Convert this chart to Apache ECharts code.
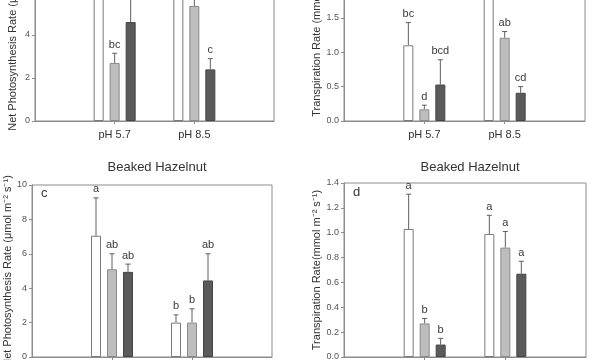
<!DOCTYPE html>
<html>
<head>
<meta charset="utf-8">
<script src="https://cdn.jsdelivr.net/npm/echarts@6/dist/echarts.min.js"></script>
<style>html,body{margin:0;padding:0;background:#fff}#c{width:600px;height:360px}</style>
</head>
<body>
<div id="c"></div>
<script>
const categories = ['', 'pH 5.7', 'pH 8.5', ''];
const panelTitle = 'Beaked Hazelnut';
const photoName = 'Net Photosynthesis Rate (\u03bcmol m\u207b\u00b2 s\u207b\u00b9)';
const transNameB = 'Transpiration Rate (mmol m\u207b\u00b2 s\u207b\u00b9)';
const transNameD = 'Transpiration Rate(mmol m\u207b\u00b2 s\u207b\u00b9)';

// Panel a (top-left, partially visible)
const aWhite = [6.8, 6.4];   const aWhiteErr = [7.6, 7.0];  const aWhiteLet = ['', ''];
const aGray = [2.7, 5.35];   const aGrayErr = [3.15, 5.9];  const aGrayLet = ['bc', ''];
const aDark = [4.6, 2.4];    const aDarkErr = [5.9, 2.9];   const aDarkLet = ['', 'c'];
// Panel b (top-right, partially visible)
const bWhite = [1.1, 2.0];   const bWhiteErr = [1.43, 2.2]; const bWhiteLet = ['bc', ''];
const bGray = [0.17, 1.21];  const bGrayErr = [0.23, 1.3];  const bGrayLet = ['d', 'ab'];
const bDark = [0.53, 0.41];  const bDarkErr = [0.89, 0.5];  const bDarkLet = ['bcd', 'cd'];
// Panel c
const cWhite = [7.05, 2.0];  const cWhiteErr = [9.25, 2.45]; const cWhiteLet = ['a', 'b'];
const cGray = [5.1, 2.0];    const cGrayErr = [6.0, 2.8];    const cGrayLet = ['ab', 'b'];
const cDark = [4.95, 4.45];  const cDarkErr = [5.4, 6.0];    const cDarkLet = ['ab', 'ab'];
// Panel d
const dWhite = [1.03, 0.99]; const dWhiteErr = [1.31, 1.14]; const dWhiteLet = ['a', 'a'];
const dGray = [0.27, 0.88];  const dGrayErr = [0.31, 1.01];  const dGrayLet = ['b', 'a'];
const dDark = [0.10, 0.67];  const dDarkErr = [0.15, 0.77];  const dDarkLet = ['b', 'a'];

const fills = ['#ffffff', '#bdbdbd', '#5a5a5a'];
const borders = ['#7a7a7a', '#8a8a8a', '#454545'];
const offsets = [-16, 0, 16];
const FONT = 'Arial, "Liberation Sans", sans-serif';

const chart = echarts.init(document.getElementById('c'));

function barSeries(gi, vals, k) {
  return {
    type: 'bar', xAxisIndex: gi, yAxisIndex: gi, barWidth: 10, barGap: '60%',
    data: ['-', vals[0], vals[1], '-'],
    itemStyle: { color: fills[k], borderColor: borders[k], borderWidth: 1 },
    silent: true, animation: false
  };
}
function errSeries(gi, vals, tops, lets, k) {
  const data = [[1, vals[0], tops[0], lets[0]], [2, vals[1], tops[1], lets[1]]];
  return {
    type: 'custom', xAxisIndex: gi, yAxisIndex: gi, animation: false, silent: true, clip: false,
    data: data,
    renderItem: function (params, api) {
      const x = api.value(0);
      const base = api.coord([x, api.value(1)]);
      const top = api.coord([x, api.value(2)]);
      const cx = base[0] + offsets[k];
      const st = { stroke: '#5e5e5e', lineWidth: 1 };
      return {
        type: 'group',
        children: [
          { type: 'line', shape: { x1: cx, y1: base[1], x2: cx, y2: top[1] }, style: st },
          { type: 'line', shape: { x1: cx - 2.5, y1: top[1], x2: cx + 2.5, y2: top[1] }, style: st },
          { type: 'text', style: { x: cx, y: top[1] - 3, text: data[params.dataIndex][3], fill: '#3a3a3a',
            font: '11px ' + FONT, align: 'center', verticalAlign: 'bottom' } }
        ]
      };
    }
  };
}

const grids = [
  { left: 35, top: -51, width: 239, height: 172 },
  { left: 344, top: -51, width: 241, height: 172 },
  { left: 32, top: 185, width: 240, height: 172 },
  { left: 344, top: 183, width: 242, height: 174 }
].map(g => Object.assign({ show: true, borderColor: '#8c8c8c', borderWidth: 1, backgroundColor: 'transparent',
  containLabel: false, outerBoundsMode: 'none' }, g));

function xAx(gi) {
  return {
    type: 'category', gridIndex: gi, data: categories, boundaryGap: false,
    axisLine: { lineStyle: { color: '#8c8c8c' } },
    axisTick: { length: 3, interval: function (i, v) { return v !== ''; }, lineStyle: { color: '#8c8c8c' } },
    axisLabel: { color: '#333', fontSize: 11, margin: 8, interval: 0, fontFamily: FONT },
    splitLine: { show: false }
  };
}
function yAx(gi, max, interval, name, gap, dec) {
  return {
    type: 'value', gridIndex: gi, min: 0, max: max, interval: interval,
    name: name, nameLocation: 'middle', nameGap: gap, nameRotate: 90,
    nameTextStyle: { color: '#333', fontSize: 11, fontFamily: FONT },
    axisLine: { show: true, lineStyle: { color: '#8c8c8c' } },
    axisTick: { show: true, length: 3, lineStyle: { color: '#8c8c8c' } },
    axisLabel: { color: '#555', fontSize: 9, margin: 5, fontFamily: FONT,
      formatter: function (v) { return dec ? v.toFixed(1) : String(v); } },
    splitLine: { show: false }
  };
}

const series = [];
const panels = [
  [aWhite, aGray, aDark, aWhiteErr, aGrayErr, aDarkErr, aWhiteLet, aGrayLet, aDarkLet],
  [bWhite, bGray, bDark, bWhiteErr, bGrayErr, bDarkErr, bWhiteLet, bGrayLet, bDarkLet],
  [cWhite, cGray, cDark, cWhiteErr, cGrayErr, cDarkErr, cWhiteLet, cGrayLet, cDarkLet],
  [dWhite, dGray, dDark, dWhiteErr, dGrayErr, dDarkErr, dWhiteLet, dGrayLet, dDarkLet]
];
panels.forEach(function (p, gi) {
  for (let k = 0; k < 3; k++) series.push(barSeries(gi, p[k], k));
  for (let k = 0; k < 3; k++) series.push(errSeries(gi, p[k], p[k + 3], p[k + 6], k));
});

chart.setOption({
  animation: false,
  backgroundColor: '#ffffff',
  title: [
    { text: panelTitle, left: 152, top: 156, textAlign: 'center',
      textStyle: { fontSize: 13, fontWeight: 'normal', color: '#333', fontFamily: FONT } },
    { text: panelTitle, left: 465, top: 156, textAlign: 'center',
      textStyle: { fontSize: 13, fontWeight: 'normal', color: '#333', fontFamily: FONT } }
  ],
  graphic: [
    { type: 'text', left: 41, top: 187, style: { text: 'c', font: '13px ' + FONT, fill: '#333' } },
    { type: 'text', left: 353, top: 186, style: { text: 'd', font: '13px ' + FONT, fill: '#333' } }
  ],
  grid: grids,
  xAxis: [xAx(0), xAx(1), xAx(2), xAx(3)],
  yAxis: [
    yAx(0, 8, 2, photoName, 17, false),
    yAx(1, 2.5, 0.5, transNameB, 22, true),
    yAx(2, 10, 2, photoName, 15, false),
    yAx(3, 1.4, 0.2, transNameD, 21, true)
  ],
  series: series
});
</script>
</body>
</html>
